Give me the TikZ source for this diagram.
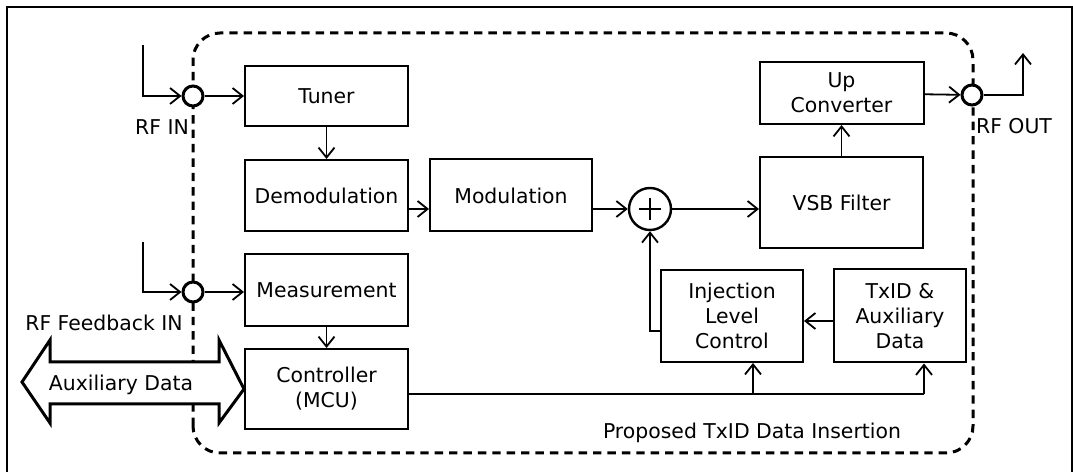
\documentclass[tikz,border=0pt]{standalone}
\usepackage{fontspec}
\setmainfont{DejaVu Sans}
\usetikzlibrary{arrows.meta,positioning}

\begin{document}
\begin{tikzpicture}[
  x=1pt,y=1pt,
  font=\fontsize{10.2}{12.5}\selectfont,
  node distance=10pt,
  block/.style={draw,line width=1pt,align=center,inner sep=2pt},
  port/.style={circle,draw,line width=1.5pt,fill=white,minimum size=10pt,inner sep=0pt},
  adder/.style={circle,draw,line width=1.2pt,fill=white,minimum size=21pt,inner sep=0pt},
  region/.style={line width=1.5pt,dash pattern=on 4.2pt off 3pt,rounded corners=13.5pt},
  arrow/.style={-{Straight Barb[length=5pt,width=8pt]},line width=0.9pt},
  wire/.style={line width=0.9pt}
]
  \useasboundingbox (0,0) rectangle (536.5,236);
  \draw[line width=0.6pt] (3.5,-2) |- (536,232.5) -- (536,-2);

  % insertion block boundary, drawn first so ports sit on top
  \draw[region] (96.5,9.5) rectangle (486.5,219.5);
  \node (insertion) at (376,19.5) {Proposed TxID Data Insertion};

  % receive chain
  \node[block,minimum width=81.5pt,minimum height=30pt] (tuner) at (163.25,188) {Tuner};
  \node[block,minimum width=81.5pt,minimum height=35.5pt,below=16pt of tuner] (demod) {Demodulation};
  \node[block,minimum width=81pt,minimum height=36pt,right=10pt of demod] (mod) {Modulation};
  \node[block,minimum width=81.5pt,minimum height=36pt,below=10.5pt of demod] (meas) {Measurement};
  \node[block,minimum width=81.5pt,minimum height=40pt,below=10.5pt of meas] (ctrl) {Controller\\(MCU)};

  % transmit chain
  \node[adder] (sum) at (325,131.5) {};
  \node[block,minimum width=81.5pt,minimum height=45.5pt] (vsb) at (420.75,134.75) {VSB Filter};
  \node[block,minimum width=82pt,minimum height=31pt,above=15.5pt of vsb] (upconv) {Up\\Converter};
  \node[block,minimum width=71pt,minimum height=46pt] (ilc) at (366,78) {Injection\\Level\\Control};
  \node[block,minimum width=66pt,minimum height=46.5pt,right=14.5pt of ilc] (txid) {TxID \&\\Auxiliary\\Data};

  \draw[line width=1.3pt] ([xshift=-5.5pt]sum.center) -- ([xshift=5.5pt]sum.center)
    ([yshift=-5.5pt]sum.center) -- ([yshift=5.5pt]sum.center);

  % RF ports on the boundary
  \node[port] (rfinport) at (96.5,188) {};
  \node[port] (fbport) at (96.5,90) {};
  \node[port] (rfoutport) at (486,188.5) {};
  \node (rfin) at (81,172.5) {RF IN};
  \node (fbin) at (52,74.5) {RF Feedback IN};
  \node (rfout) at (507,173) {RF OUT};
  \coordinate (rfinsrc) at (71.5,213.5);
  \coordinate (fbsrc) at (71.5,115);
  \coordinate (rfoutdst) at (511.5,209.5);

  % auxiliary data link into the controller
  \draw[line width=1.5pt,fill=white,line join=miter]
    (11,45) -- (25,66) -- (25,55) -- (109.5,55) -- (109.5,66) -- (ctrl.west)
    -- (109.5,24.5) -- (109.5,34) -- (25,34) -- (25,24.5) -- cycle;
  \node (auxdata) at (60.5,43.5) {Auxiliary Data};

  \draw[arrow] (rfinsrc) |- (rfinport);
  \draw[arrow] (fbsrc) |- (fbport);
  \draw[arrow] (rfinport) -- (tuner);
  \draw[arrow] (fbport) -- (fbport -| meas.west);
  \draw[arrow] (tuner) -- (demod);
  \draw[arrow] (meas) -- (ctrl);
  \draw[arrow] (demod.east |- sum) -- (mod.west |- sum);
  \draw[arrow] (mod.east |- sum) -- (sum);
  \draw[arrow] (sum) -- (sum -| vsb.west);
  \draw[arrow] (vsb) -- (upconv);
  \draw[arrow] (upconv) -- (rfoutport);
  \draw[arrow] (rfoutport) -| (rfoutdst);
  \draw[arrow] ([yshift=-2.5pt]txid.west) -- ([yshift=-2.5pt]ilc.east);
  \draw[arrow] ([yshift=-7.5pt]ilc.west) -| (sum);

  % controller bus to the TxID blocks
  \coordinate (ilctap) at (376.5,39);
  \coordinate (txidtap) at (462,39);
  \draw[wire] (ctrl.east |- txidtap) -- (txidtap);
  \draw[arrow] (ilctap) -- (ilctap |- ilc.south);
  \draw[arrow] (txidtap) -- (txidtap |- txid.south);
\end{tikzpicture}
\end{document}
